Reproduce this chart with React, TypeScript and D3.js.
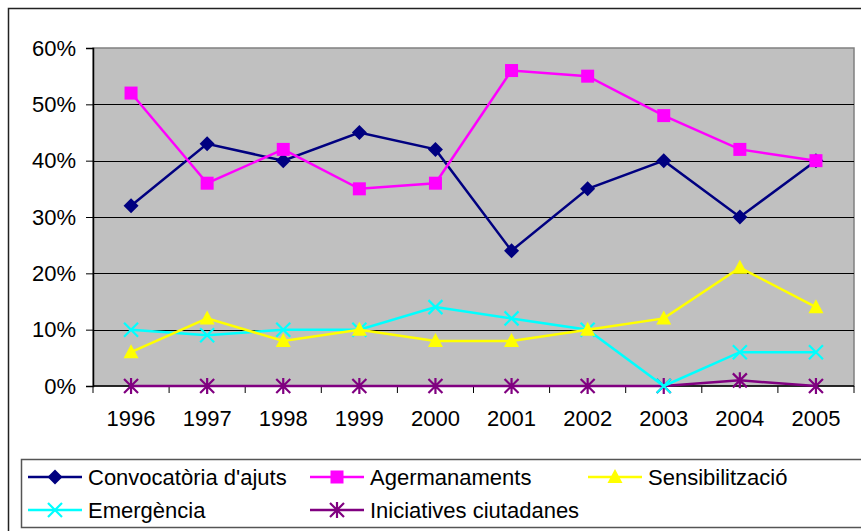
import { useEffect, useRef } from "react";
import * as d3 from "d3";

const years = ["1996", "1997", "1998", "1999", "2000", "2001", "2002", "2003", "2004", "2005"];
const convocatoria = [32, 43, 40, 45, 42, 24, 35, 40, 30, 40];
const agermanaments = [52, 36, 42, 35, 36, 56, 55, 48, 42, 40];
const sensibilitzacio = [6, 12, 8, 10, 8, 8, 10, 12, 21, 14];
const emergencia = [10, 9, 10, 10, 14, 12, 10, 0, 6, 6];
const iniciatives = [0, 0, 0, 0, 0, 0, 0, 0, 1, 0];
const yTicks = [0, 10, 20, 30, 40, 50, 60];

const series = [
  { name: "Convocatòria d'ajuts", values: convocatoria, color: "#000080", marker: "diamond" },
  { name: "Agermanaments", values: agermanaments, color: "#FF00FF", marker: "square" },
  { name: "Sensibilització", values: sensibilitzacio, color: "#FFFF00", marker: "triangle" },
  { name: "Emergència", values: emergencia, color: "#00FFFF", marker: "x" },
  { name: "Iniciatives ciutadanes", values: iniciatives, color: "#800080", marker: "star" },
];

const FONT = "Arial, 'Liberation Sans', sans-serif";
const FS = "22px";

function drawMarker(g: any, kind: string, x: number, y: number, color: string) {
  if (kind === "diamond") {
    g.append("path")
      .attr("d", `M${x},${y - 7.5}L${x + 7.5},${y}L${x},${y + 7.5}L${x - 7.5},${y}Z`)
      .attr("fill", color);
  } else if (kind === "square") {
    g.append("rect").attr("x", x - 6.5).attr("y", y - 6.5).attr("width", 13).attr("height", 13).attr("fill", color);
  } else if (kind === "triangle") {
    g.append("path")
      .attr("d", `M${x},${y - 8}L${x + 7.5},${y + 6}L${x - 7.5},${y + 6}Z`)
      .attr("fill", color);
  } else if (kind === "x") {
    g.append("path")
      .attr("d", `M${x - 7},${y - 7}L${x + 7},${y + 7}M${x - 7},${y + 7}L${x + 7},${y - 7}`)
      .attr("stroke", color)
      .attr("stroke-width", 2.2);
  } else {
    g.append("path")
      .attr(
        "d",
        `M${x - 7},${y - 7}L${x + 7},${y + 7}M${x - 7},${y + 7}L${x + 7},${y - 7}M${x},${y - 8}L${x},${y + 8}`
      )
      .attr("stroke", color)
      .attr("stroke-width", 2.2);
  }
}

export default function App() {
  const svgRef = useRef<SVGSVGElement>(null);

  useEffect(() => {
    const w = 861;
    const h = 531;
    const svg = d3.select(svgRef.current).attr("width", w).attr("height", h);
    svg.selectAll("*").remove();

    const left = 93;
    const right = 854;
    const top = 48;
    const bottom = 386;

    // outer frame
    svg.append("rect").attr("width", w).attr("height", h).attr("fill", "#fff");
    svg.append("rect")
      .attr("x", 8.5).attr("y", 8.5).attr("width", 900).attr("height", 600)
      .attr("fill", "none").attr("stroke", "#222").attr("stroke-width", 1.5);

    const x = d3.scaleBand().domain(years).range([left, right]);
    const y = d3.scaleLinear().domain([0, 60]).range([bottom, top]);

    // plot area
    svg.append("rect")
      .attr("x", left).attr("y", top).attr("width", right - left).attr("height", bottom - top)
      .attr("fill", "#C0C0C0").attr("stroke", "#808080").attr("stroke-width", 1.5);

    // gridlines
    svg.append("g")
      .selectAll("line")
      .data(yTicks.filter((t) => t > 0 && t < 60))
      .join("line")
      .attr("x1", left).attr("x2", right)
      .attr("y1", (d) => Math.round(y(d)) + 0.5).attr("y2", (d) => Math.round(y(d)) + 0.5)
      .attr("stroke", "#000").attr("stroke-width", 1);

    // y axis
    const yAxis = svg.append("g")
      .attr("transform", `translate(${left},0)`)
      .call(d3.axisLeft(y).tickValues(yTicks).tickSize(7).tickPadding(10).tickFormat((d) => `${d}%`));
    yAxis.select(".domain").attr("stroke", "#000").attr("stroke-width", 1.5);
    yAxis.selectAll(".tick line").attr("stroke", "#000");
    yAxis.selectAll("text").style("font-family", FONT).style("font-size", FS).attr("fill", "#000");

    // x axis
    const xAxis = svg.append("g").attr("transform", `translate(0,${bottom})`);
    xAxis.append("line").attr("x1", left).attr("x2", right).attr("y1", 0).attr("y2", 0).attr("stroke", "#000").attr("stroke-width", 1.5);
    xAxis.selectAll("line.tk")
      .data([...years.map((d) => x(d) as number), right])
      .join("line")
      .attr("class", "tk")
      .attr("x1", (d) => d).attr("x2", (d) => d).attr("y1", 0).attr("y2", 7)
      .attr("stroke", "#000");
    xAxis.selectAll("text")
      .data(years)
      .join("text")
      .attr("x", (d) => (x(d) as number) + x.bandwidth() / 2)
      .attr("y", 40)
      .attr("text-anchor", "middle")
      .style("font-family", FONT)
      .style("font-size", FS)
      .text((d) => d);

    // lines
    const line = d3.line<number>()
      .x((d, i) => (x(years[i]) as number) + x.bandwidth() / 2)
      .y((d) => y(d));

    const order = [4, 3, 2, 0, 1];
    order.forEach((si) => {
      const s = series[si];
      const g = svg.append("g");
      g.append("path")
        .attr("d", line(s.values))
        .attr("fill", "none")
        .attr("stroke", s.color)
        .attr("stroke-width", 2.5);
      s.values.forEach((v, i) => {
        drawMarker(g, s.marker, (x(years[i]) as number) + x.bandwidth() / 2, y(v), s.color);
      });
    });

    // legend
    const lg = svg.append("g");
    lg.append("rect")
      .attr("x", 21.5).attr("y", 459.5).attr("width", 900).attr("height", 68)
      .attr("fill", "#fff").attr("stroke", "#555").attr("stroke-width", 1.5);
    const cols = [28, 310, 588];
    series.forEach((s, i) => {
      const cx = cols[i % 3];
      const cy = i < 3 ? 477 : 510;
      lg.append("line")
        .attr("x1", cx).attr("x2", cx + 54).attr("y1", cy).attr("y2", cy)
        .attr("stroke", s.color).attr("stroke-width", 2.5);
      drawMarker(lg, s.marker, cx + 27, cy, s.color);
      lg.append("text")
        .attr("x", cx + 60).attr("y", cy)
        .attr("dy", "0.35em")
        .style("font-family", FONT)
        .style("font-size", FS)
        .text(s.name);
    });
  }, []);

  return (
    <div style={{ position: "absolute", left: 0, top: 0 }}>
      <svg ref={svgRef} style={{ display: "block" }}></svg>
    </div>
  );
}
